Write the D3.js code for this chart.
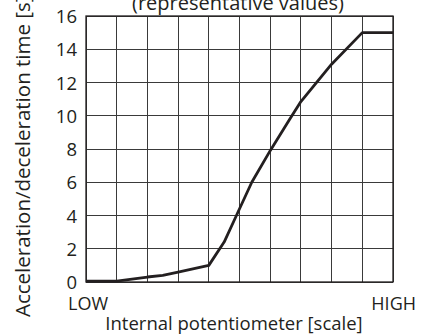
<!DOCTYPE html>
<html><head><meta charset="utf-8">
<script src="https://cdn.jsdelivr.net/npm/d3@7"></script>
<style>body{margin:0;background:#fff}svg{display:block}text{font-family:"Open Sans",sans-serif;fill:#231f20}</style>
</head><body>
<svg id="c" width="422" height="334"></svg>
<script>
const titleText = "(representative values)";
const xLabel = "Internal potentiometer [scale]";
const yLabel = "Acceleration/deceleration time [s]";
const xEndLabels = ["LOW", "HIGH"];
const yTicks = [0, 2, 4, 6, 8, 10, 12, 14, 16];
const xGrid = [0,1,2,3,4,5,6,7,8,9,10];
const curveX = [0, 1, 2, 2.5, 3, 4, 4.5, 4.9, 5.4, 6, 6.64, 7, 8, 9, 10];
const curveY = [0.05, 0.05, 0.3, 0.4, 0.6, 1.0, 2.4, 4.0, 6.0, 7.9, 9.8, 10.85, 13.1, 15, 15];

const svg = d3.select("#c");
const L = 86, R = 393, T = 16, B = 282;
const x = d3.scaleLinear().domain([0, 10]).range([L, R]);
const y = d3.scaleLinear().domain([0, 16]).range([B, T]);

// grid
svg.append("g").selectAll("line").data(xGrid).join("line")
  .attr("x1", d => x(d)).attr("x2", d => x(d)).attr("y1", T).attr("y2", B)
  .attr("stroke", "#3a3a3a").attr("stroke-width", 1).attr("shape-rendering","crispEdges");
svg.append("g").selectAll("line").data(yTicks).join("line")
  .attr("x1", L).attr("x2", R).attr("y1", d => y(d)).attr("y2", d => y(d))
  .attr("stroke", "#3a3a3a").attr("stroke-width", 1).attr("shape-rendering","crispEdges");
svg.append("rect").attr("x", L).attr("y", T).attr("width", R - L).attr("height", B - T)
  .attr("fill", "none").attr("stroke", "#231f20").attr("stroke-width", 1.3);

// y axis labels
const yAxis = d3.axisLeft(y).tickValues(yTicks).tickSize(0).tickPadding(9);
const ga = svg.append("g").attr("transform", `translate(${L},0)`).call(yAxis);
ga.select(".domain").remove();
ga.selectAll("text").attr("font-size", 18.5).attr("font-family", "Open Sans").attr("fill", "#231f20").attr("dy", "0.36em");

// curve
const pts = curveX.map((d, i) => [d, curveY[i]]);
svg.append("path").datum(pts)
  .attr("d", d3.line().x(d => x(d[0])).y(d => y(d[1])))
  .attr("fill", "none").attr("stroke", "#231f20").attr("stroke-width", 2.8).attr("stroke-linejoin", "round");

// texts
svg.append("text").attr("x", 238).attr("y", 10).attr("text-anchor", "middle").attr("font-size", 20).text(titleText);
svg.append("text").attr("x", 68).attr("y", 310).attr("font-size", 18).text(xEndLabels[0]);
svg.append("text").attr("x", 416).attr("y", 310).attr("text-anchor", "end").attr("font-size", 18).text(xEndLabels[1]);
svg.append("text").attr("x", 234).attr("y", 330).attr("text-anchor", "middle").attr("font-size", 18.5).text(xLabel);
svg.append("text").attr("transform", "translate(30,317) rotate(-90)").attr("font-size", 20.5).text(yLabel);
</script>
</body></html>
